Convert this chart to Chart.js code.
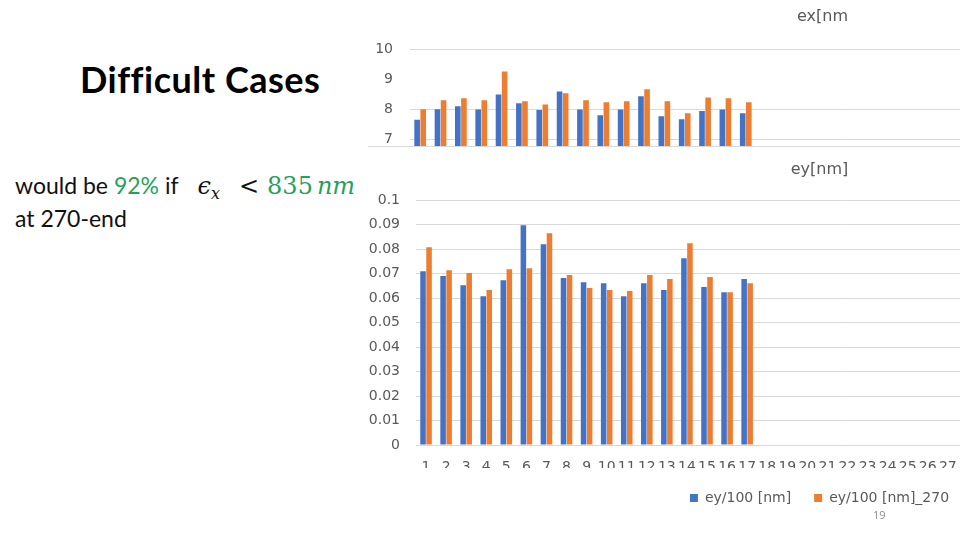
<!DOCTYPE html>
<html>
<head>
<meta charset="utf-8">
<script src="https://cdn.jsdelivr.net/npm/chart.js@4.4.0/dist/chart.umd.min.js"></script>
<style>
html, body { margin: 0; padding: 0; width: 960px; height: 540px; overflow: hidden; background: #fff; }
.abs { position: absolute; white-space: nowrap; }
#title { left: 80px; top: 55px; font: bold 36px Lato; letter-spacing: 0.5px; color: #000; line-height: 48px; }
.txt { left: 15px; font: 23px Lato; color: #111; line-height: 33px; }
.green { color: #27a05c; }
.m { font-family: "DejaVu Serif"; font-size: 24px; }
.mi { font-family: "DejaVu Serif"; font-style: italic; font-size: 24px; }
sub { font-family: "DejaVu Serif"; font-style: italic; font-size: 16px; vertical-align: -5px; }
#page { left: 873px; top: 507px; font: 11px "Open Sans"; color: #8c8c8c; }
#cut { left: 368px; top: 146px; width: 600px; height: 1px; background: #d9d9d9; }
#exBox { position: absolute; left: 360px; top: 0; }
#eyBox { position: absolute; left: 360px; top: 150px; }
</style>
</head>
<body>
<div id="title" class="abs">Difficult Cases</div>
<div class="abs txt" style="top:169px">would be <span class="green">92%</span> if<span class="mi" style="margin-left:19px">ϵ</span><sub>x</sub><span class="m" style="margin-left:19px">&lt;</span><span class="m green" style="margin-left:8px">835</span><span class="mi green" style="margin-left:4px">nm</span></div>
<div class="abs txt" style="top:202px">at 270-end</div>
<div id="eyBox"><canvas id="eyChart" width="926" height="365"></canvas></div>
<div id="exBox"><canvas id="exChart" width="926" height="172"></canvas></div>
<div id="cut" class="abs"></div>
<div id="page" class="abs">19</div>

<script>
// categories (the chart continues past the slide edge)
const runs = ["1","2","3","4","5","6","7","8","9","10","11","12","13","14","15","16","17","18","19","20",
    "21","22","23","24","25","26","27","28","29","30","31","32","33","34","35","36","37","38","39","40",
    "41","42","43"];

// ex [nm]
const exAll = [7.66, 8.01, 8.11, 8.00, 8.50, 8.21, 7.98, 8.60, 8.00, 7.81, 8.00, 8.44, 7.78, 7.68, 7.95, 8.00, 7.88];
const ex270 = [8.01, 8.31, 8.37, 8.31, 9.26, 8.27, 8.17, 8.54, 8.31, 8.24, 8.27, 8.67, 8.27, 7.88, 8.40, 8.37, 8.24];
const exTicks = [7, 8, 9, 10];

// ey/100 [nm]
const eyAll = [0.0710, 0.0690, 0.0653, 0.0608, 0.0673, 0.0898, 0.0820, 0.0682, 0.0665, 0.0661, 0.0608, 0.0661, 0.0633, 0.0763, 0.0645, 0.0624, 0.0678];
const ey270 = [0.0808, 0.0714, 0.0703, 0.0633, 0.0718, 0.0722, 0.0865, 0.0694, 0.0641, 0.0633, 0.0629, 0.0694, 0.0678, 0.0824, 0.0686, 0.0624, 0.0661];

const blue = "#4472C4";
const orange = "#ED7D31";
const grid = "#d9d9d9";
const tickColor = "#595959";
const font = "DejaVu Sans";

function bars(label, data, color) {
    return {
        label: label,
        data: data,
        backgroundColor: color,
        borderWidth: 0,
        categoryPercentage: 0.6,
        barPercentage: 0.92
    };
}

// top chart: the slide cuts it off just below 7, the canvas runs a bit
// further because the y tick padding also pads the bottom of the plot
new Chart(document.getElementById("exChart"), {
    type: "bar",
    data: {
        labels: runs,
        datasets: [bars("ex [nm]", exAll, blue), bars("ex [nm]_270", ex270, orange)]
    },
    options: {
        responsive: false,
        animation: false,
        layout: { padding: { right: 1, left: 0, top: 0, bottom: 0 } },
        plugins: {
            legend: { display: false },
            tooltip: { enabled: false },
            title: {
                display: true,
                text: "ex[nm",
                color: tickColor,
                font: { family: font, size: 16, weight: "normal" },
                padding: { top: 7, bottom: 23 }
            }
        },
        scales: {
            x: {
                ticks: { display: false },
                grid: { display: false },
                border: { display: false },
                afterFit: axis => { axis.height = 0; }
            },
            y: {
                min: 6.77,
                max: 10,
                afterBuildTicks: axis => { axis.ticks = exTicks.map(v => ({ value: v })); },
                afterFit: axis => { axis.width = 50; },
                border: { display: false },
                grid: {
                    drawTicks: false,
                    color: ctx => (ctx.tick && ctx.tick.value === 9) ? "rgba(0,0,0,0)" : grid
                },
                ticks: { color: tickColor, padding: 17, font: { family: font, size: 14 } }
            }
        }
    }
});

new Chart(document.getElementById("eyChart"), {
    type: "bar",
    data: {
        labels: runs,
        datasets: [bars("ey/100 [nm]", eyAll, blue), bars("ey/100 [nm]_270", ey270, orange)]
    },
    options: {
        responsive: false,
        animation: false,
        layout: { padding: { right: 7, left: 0, top: 0, bottom: 0 } },
        plugins: {
            tooltip: { enabled: false },
            title: {
                display: true,
                text: "ey[nm]",
                color: tickColor,
                font: { family: font, size: 16, weight: "normal" },
                padding: { top: 10, bottom: 21 }
            },
            legend: {
                position: "bottom",
                labels: {
                    color: tickColor,
                    boxWidth: 8,
                    boxHeight: 8,
                    padding: 23,
                    font: { family: font, size: 14 }
                }
            }
        },
        scales: {
            x: {
                grid: { display: false },
                border: { display: false },
                afterFit: axis => { axis.height = 23; },
                ticks: {
                    color: tickColor,
                    autoSkip: false,
                    maxRotation: 0,
                    padding: 6,
                    font: { family: font, size: 14 }
                }
            },
            y: {
                min: 0,
                max: 0.1,
                afterFit: axis => { axis.width = 56; },
                border: { display: false },
                grid: { drawTicks: false, color: grid },
                ticks: {
                    stepSize: 0.01,
                    color: tickColor,
                    padding: 16,
                    font: { family: font, size: 14 },
                    callback: v => String(+v.toFixed(2))
                }
            }
        }
    }
});
</script>
</body>
</html>
